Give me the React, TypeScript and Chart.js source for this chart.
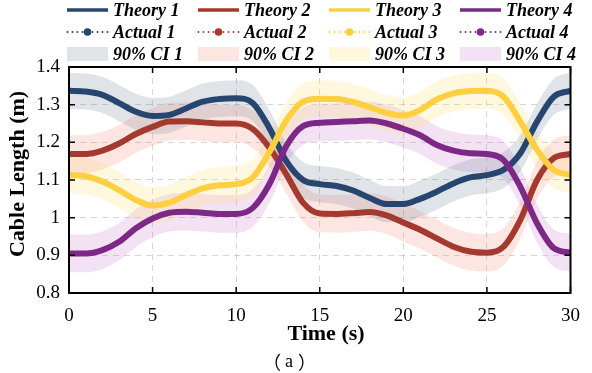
import React, { useEffect, useRef } from "react";
import { Chart, registerables } from "chart.js";
Chart.register(...registerables);

const times = [0,1,2,3,4,5,6,7,8,9,10,11,12,13,14,15,16,17,18,19,20,21,22,23,24,25,26,27,28,29,30];
const theory1 = [1.337,1.335,1.326,1.304,1.281,1.270,1.273,1.290,1.308,1.315,1.317,1.304,1.237,1.150,1.100,1.089,1.084,1.072,1.052,1.036,1.036,1.050,1.069,1.091,1.107,1.113,1.127,1.171,1.255,1.321,1.337];
const theory2 = [1.169,1.169,1.178,1.197,1.222,1.241,1.255,1.256,1.253,1.250,1.250,1.235,1.185,1.115,1.040,1.011,1.010,1.012,1.015,1.006,0.987,0.968,0.945,0.923,0.910,0.907,0.923,0.994,1.100,1.158,1.169];
const theory3 = [1.113,1.110,1.096,1.073,1.047,1.032,1.040,1.060,1.078,1.086,1.089,1.107,1.175,1.258,1.308,1.316,1.315,1.307,1.293,1.278,1.271,1.286,1.314,1.330,1.336,1.337,1.321,1.255,1.180,1.127,1.113];
const theory4 = [0.905,0.905,0.914,0.936,0.972,0.998,1.013,1.016,1.013,1.010,1.010,1.026,1.090,1.190,1.243,1.252,1.254,1.256,1.258,1.250,1.236,1.219,1.193,1.178,1.171,1.169,1.153,1.082,0.985,0.919,0.907];
const actual1 = [1.337,1.335,1.326,1.304,1.281,1.270,1.273,1.290,1.308,1.315,1.317,1.304,1.237,1.150,1.100,1.089,1.084,1.072,1.052,1.036,1.036,1.050,1.069,1.091,1.107,1.113,1.127,1.171,1.255,1.321,1.337];
const actual2 = [1.169,1.169,1.178,1.197,1.222,1.241,1.255,1.256,1.253,1.250,1.250,1.235,1.185,1.115,1.040,1.011,1.010,1.012,1.015,1.006,0.987,0.968,0.945,0.923,0.910,0.907,0.923,0.994,1.100,1.158,1.169];
const actual3 = [1.113,1.110,1.096,1.073,1.047,1.032,1.040,1.060,1.078,1.086,1.089,1.107,1.175,1.258,1.308,1.316,1.315,1.307,1.293,1.278,1.271,1.286,1.314,1.330,1.336,1.337,1.321,1.255,1.180,1.127,1.113];
const actual4 = [0.905,0.905,0.914,0.936,0.972,0.998,1.013,1.016,1.013,1.010,1.010,1.026,1.090,1.190,1.243,1.252,1.254,1.256,1.258,1.250,1.236,1.219,1.193,1.178,1.171,1.169,1.153,1.082,0.985,0.919,0.907];
const ciHalfWidth = [0.048, 0.05, 0.048, 0.05];

const theoryLabels = ["Theory 1", "Theory 2", "Theory 3", "Theory 4"];
const actualLabels = ["Actual 1", "Actual 2", "Actual 3", "Actual 4"];
const ciLabels = ["90% CI 1", "90% CI 2", "90% CI 3", "90% CI 4"];
const xTitle = "Time (s)";
const yTitle = "Cable Length (m)";
const captionParts = ["（", "a", "）"];

const lineColors = ["#27466f", "#a43a2f", "#fecf3e", "#7d2887"];
const bandColors = [
  "rgba(60,85,120,0.16)",
  "rgba(245,130,105,0.2)",
  "rgba(255,222,95,0.2)",
  "rgba(195,110,195,0.2)",
];

const SERIF = '"Liberation Serif", "Times New Roman", serif';
const CJK = '"Noto Sans CJK SC", sans-serif';

export default function App() {
  const ref = useRef<HTMLCanvasElement | null>(null);
  useEffect(() => {
    document.body.style.margin = "0";
    const canvas = ref.current!;
    const theories = [theory1, theory2, theory3, theory4];
    const actuals = [actual1, actual2, actual3, actual4];
    const datasets: any[] = [];
    theories.forEach((arr, i) => {
      datasets.push({
        label: ciLabels[i] + " upper",
        data: arr.map((v, k) => ({ x: times[k], y: v + ciHalfWidth[i] })),
        borderWidth: 0,
        pointRadius: 0,
        backgroundColor: bandColors[i],
        fill: "+1",
        cubicInterpolationMode: "monotone",
        order: 30 + i,
      });
      datasets.push({
        label: ciLabels[i] + " lower",
        data: arr.map((v, k) => ({ x: times[k], y: v - ciHalfWidth[i] })),
        borderWidth: 0,
        pointRadius: 0,
        fill: false,
        cubicInterpolationMode: "monotone",
        order: 30 + i,
      });
    });
    actuals.forEach((arr, i) => {
      datasets.push({
        label: actualLabels[i],
        data: arr.map((v, k) => ({ x: times[k], y: v })),
        borderColor: lineColors[i],
        borderWidth: 2,
        borderDash: [1, 3],
        pointRadius: 0,
        fill: false,
        cubicInterpolationMode: "monotone",
        order: 20 - i,
      });
    });
    theories.forEach((arr, i) => {
      datasets.push({
        label: theoryLabels[i],
        data: arr.map((v, k) => ({ x: times[k], y: v })),
        borderColor: lineColors[i],
        borderWidth: 6,
        pointRadius: 0,
        fill: false,
        cubicInterpolationMode: "monotone",
        order: 10 - i,
      });
    });

    const decor = {
      id: "decor",
      afterDraw(chart: any) {
        const ctx = chart.ctx;
        const { left, right, top, bottom } = chart.chartArea;
        ctx.save();
        ctx.strokeStyle = "#000";
        ctx.lineWidth = 1.5;
        const xs = chart.scales.x;
        const ys = chart.scales.y;
        xs.ticks.forEach((t: any) => {
          const px = xs.getPixelForValue(t.value);
          ctx.beginPath();
          ctx.moveTo(px, bottom);
          ctx.lineTo(px, bottom - 6);
          ctx.moveTo(px, top);
          ctx.lineTo(px, top + 6);
          ctx.stroke();
        });
        ys.ticks.forEach((t: any) => {
          const py = ys.getPixelForValue(t.value);
          ctx.beginPath();
          ctx.moveTo(left, py);
          ctx.lineTo(left + 6, py);
          ctx.moveTo(right, py);
          ctx.lineTo(right - 6, py);
          ctx.stroke();
        });
        ctx.lineWidth = 2;
        ctx.strokeRect(left, top, right - left, bottom - top);

        // legend
        const cols = [67, 198, 329, 460];
        const rows = [10, 32, 54];
        ctx.font = "bold italic 18px " + SERIF;
        ctx.textBaseline = "middle";
        ctx.textAlign = "left";
        for (let i = 0; i < 4; i++) {
          const x = cols[i];
          ctx.strokeStyle = lineColors[i];
          ctx.lineWidth = 3.5;
          ctx.setLineDash([]);
          ctx.beginPath();
          ctx.moveTo(x, rows[0]);
          ctx.lineTo(x + 41, rows[0]);
          ctx.stroke();
          ctx.fillStyle = lineColors[i];
          for (let d = 0; d <= 40; d += 5) {
            if (Math.abs(d - 20) < 5) continue;
            ctx.beginPath();
            ctx.arc(x + d + 0.5, rows[1], 1, 0, Math.PI * 2);
            ctx.fill();
          }
          ctx.beginPath();
          ctx.arc(x + 20.5, rows[1], 3.8, 0, Math.PI * 2);
          ctx.fill();
          ctx.fillStyle = bandColors[i];
          ctx.fillRect(x, rows[2] - 7, 41, 14);
          ctx.fillStyle = "#000";
          ctx.fillText(theoryLabels[i], x + 46, rows[0] + 1);
          ctx.fillText(actualLabels[i], x + 46, rows[1] + 1);
          ctx.fillText(ciLabels[i], x + 46, rows[2] + 1);
        }

        // axis titles
        ctx.fillStyle = "#000";
        ctx.font = "bold 22px " + SERIF;
        ctx.textAlign = "center";
        ctx.textBaseline = "middle";
        ctx.fillText(xTitle, 326, 334);
        ctx.save();
        ctx.translate(18, 174);
        ctx.rotate(-Math.PI / 2);
        ctx.fillText(yTitle, 0, 0);
        ctx.restore();

        // caption: parentheses positioned by their visible glyph box
        ctx.textAlign = "center";
        ctx.font = "18px " + SERIF;
        ctx.fillText(captionParts[1], 289, 362);
        ctx.textAlign = "left";
        ctx.font = "18px " + CJK;
        const mL = ctx.measureText(captionParts[0]);
        ctx.fillText(captionParts[0], 275 + mL.actualBoundingBoxLeft, 362);
        const mR = ctx.measureText(captionParts[2]);
        ctx.fillText(captionParts[2], 304 - mR.actualBoundingBoxRight, 362);
        ctx.restore();
      },
    };

    const chart = new Chart(canvas, {
      type: "line",
      data: { datasets },
      options: {
        animation: false,
        responsive: false,
        layout: { padding: { left: 0, top: 67, right: 19, bottom: 0 } },
        plugins: { legend: { display: false }, tooltip: { enabled: false } },
        scales: {
          x: {
            type: "linear",
            min: 0,
            max: 30,
            ticks: { stepSize: 5, color: "#000", font: { family: SERIF, size: 19 }, padding: 12, maxRotation: 0 },
            grid: { color: "rgba(0,0,0,0.16)", drawTicks: false, lineWidth: 1 },
            border: { display: false, dash: [6, 5] },
            afterFit: (s: any) => { s.height = 80; },
          },
          y: {
            min: 0.8,
            max: 1.4,
            ticks: {
              stepSize: 0.1,
              color: "#000",
              font: { family: SERIF, size: 19 },
              padding: 9,
              callback: (v: any) => String(Number(Number(v).toFixed(1))),
            },
            grid: { color: "rgba(0,0,0,0.16)", drawTicks: false, lineWidth: 1 },
            border: { display: false, dash: [6, 5] },
            afterFit: (s: any) => { s.width = 69; },
          },
        },
      },
      plugins: [decor],
    });
    return () => chart.destroy();
  }, []);
  return (
    <div style={{ position: "absolute", left: 0, top: 0, width: 592, height: 373, background: "#fff" }}>
      <canvas ref={ref} width={592} height={373} />
    </div>
  );
}
